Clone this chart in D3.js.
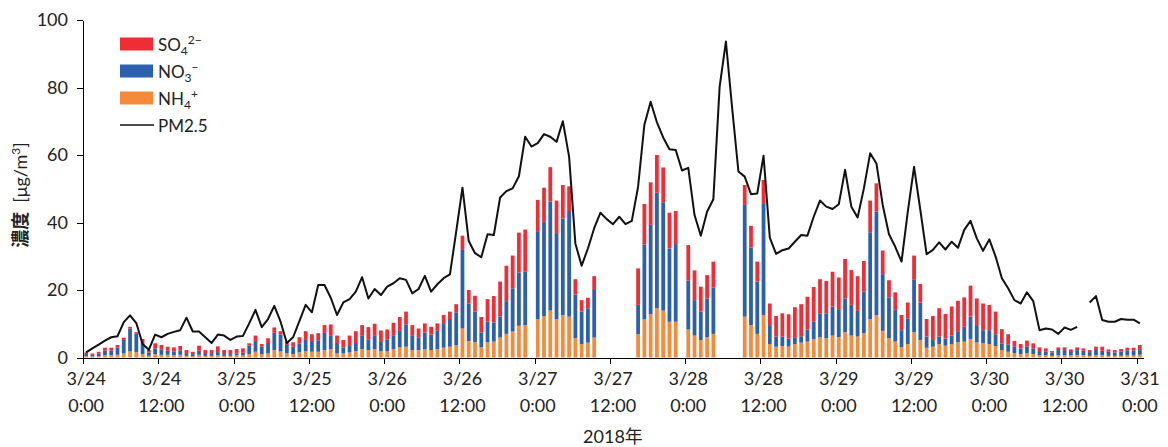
<!DOCTYPE html>
<html>
<head>
<meta charset="utf-8">
<script src="https://cdn.jsdelivr.net/npm/d3@7"></script>
<style>
body { margin: 0; background: #fff; }
text { font-family: Lato, "Noto Sans CJK JP", sans-serif; fill: #222; }
</style>
</head>
<body>
<svg id="chart" width="1168" height="447"></svg>
<script>
// hourly samples, 3/24 0:00 .. 3/31 0:00
const hours = d3.range(169);

const pm25 = [
  1.5, 2.7, 3.8, 5.0, 6.0, 6.3, 10.5, 12.5, 10.2, 4.0,
  2.3, 6.8, 6.0, 7.0, 7.6, 8.1, 11.8, 7.7, 7.7, 6.0,
  4.3, 6.8, 6.5, 5.2, 6.2, 6.4, 10.1, 14.1, 9.0, 11.4,
  15.3, 10.6, 4.3, 6.0, 10.8, 15.6, 13.4, 21.5, 21.5, 17.7,
  12.6, 16.3, 17.3, 19.5, 23.8, 17.5, 20.3, 18.5, 21.0, 22.0,
  23.5, 23.0, 19.0, 20.3, 24.2, 19.5, 21.7, 23.5, 24.6, 37.3,
  50.3, 34.5, 30.9, 29.7, 36.5, 36.3, 47.4, 49.3, 50.1, 53.7,
  65.4, 62.5, 63.5, 66.2, 65.4, 63.9, 70.0, 59.5, 33.8, 27.2,
  32.3, 38.3, 42.9, 41.0, 39.5, 41.7, 39.5, 40.5, 50.6, 68.9,
  75.8, 69.7, 65.2, 61.7, 61.5, 55.4, 56.2, 42.2, 36.1, 43.2,
  46.9, 80.2, 93.6, 73.8, 55.1, 53.6, 48.4, 48.6, 59.8, 35.5,
  30.7, 31.8, 32.3, 34.3, 36.3, 36.1, 41.7, 46.5, 44.7, 44.0,
  45.4, 55.6, 44.7, 41.5, 50.1, 60.5, 57.5, 45.2, 36.5, 32.8,
  28.4, 43.2, 56.5, 43.7, 30.6, 31.9, 34.1, 32.0, 34.3, 32.5,
  37.8, 40.5, 35.3, 31.6, 35.0, 29.9, 23.5, 20.5, 17.0, 16.0,
  19.3, 16.7, 8.1, 8.6, 8.3, 7.0, 8.9, 8.2, 9.1, null,
  16.3, 18.2, 11.1, 10.6, 10.6, 11.4, 11.2, 11.2, 10.1
];

const nh4 = [
  0.4, 0.3, 0.4, 0.7, 0.7, 0.8, 1.2, 1.8, 1.6, 1.0,
  0.5, 1.0, 0.8, 0.8, 0.7, 0.8, 0.5, 0.4, 0.8, 0.5,
  0.5, 0.7, 0.5, 0.5, 0.6, 0.6, 1.0, 1.7, 1.0, 1.2,
  2.2, 1.8, 1.2, 1.0, 1.5, 1.9, 1.7, 1.7, 2.2, 2.4,
  1.2, 1.2, 1.5, 1.9, 2.5, 2.2, 2.5, 1.9, 1.9, 2.5,
  3.0, 3.2, 2.2, 2.2, 2.5, 2.2, 2.5, 2.9, 3.2, 3.7,
  8.6, 4.9, 4.5, 3.0, 4.5, 4.7, 5.9, 7.0, 7.7, 9.4,
  9.6, null, 11.4, 12.3, 13.9, 11.4, 12.6, 12.1, 5.7, 4.0,
  4.4, 5.9, null, null, null, null, null, null, 6.9, 11.4,
  12.9, 14.6, 13.9, 10.6, 10.6, null, 8.3, 6.5, 5.2, 6.0,
  7.0, null, null, null, null, 12.1, 9.6, 7.0, 12.6, 4.0,
  3.2, 3.4, 3.2, 4.0, 4.4, 4.7, 5.5, 6.0, 5.7, 6.5,
  6.0, 7.5, 6.5, 6.2, 7.2, 11.4, 12.6, 7.9, 5.7, 4.7,
  3.0, 4.0, 7.5, 5.2, 2.9, 3.2, 4.0, 3.5, 4.0, 4.5,
  4.7, 5.5, 4.5, 4.2, 4.0, 3.4, 2.2, 1.7, 1.2, 1.0,
  1.3, 1.0, 0.7, 0.7, 0.5, 0.7, 0.7, 0.7, 0.7, 0.7,
  0.5, 0.7, 0.7, 0.5, 0.5, 0.5, 0.6, 0.6, 0.8
];

const no3 = [
  0.6, 0.5, 0.7, 1.3, 1.4, 2.2, 4.0, 6.8, 5.4, 3.0,
  1.0, 1.7, 1.5, 1.2, 1.1, 1.3, 0.8, 0.6, 1.2, 0.8,
  0.8, 0.9, 0.5, 0.5, 0.6, 0.8, 2.5, 2.9, 2.2, 3.1,
  5.1, 5.0, 2.5, 2.2, 2.7, 3.3, 3.2, 3.4, 5.1, 4.2,
  3.1, 1.7, 1.9, 2.4, 3.9, 3.2, 3.9, 2.7, 3.5, 4.1,
  4.9, 6.6, 4.4, 3.8, 4.9, 4.6, 5.4, 7.0, 8.2, 9.7,
  23.5, 11.1, 9.1, 4.4, 6.1, 5.7, 6.2, 9.7, 12.8, 15.8,
  15.8, null, 25.8, 27.9, 32.3, 25.2, 28.6, 31.3, 13.0, 9.6,
  10.2, 14.1, null, null, null, null, null, null, 8.7, 22.1,
  26.4, 34.2, 32.1, 21.7, 23.0, null, 14.5, 10.5, 8.4, 11.5,
  13.7, null, null, null, null, 33.1, 23.0, 15.5, 32.9, 5.6,
  3.0, 2.8, 2.4, 1.8, 1.9, 3.6, 5.1, 7.1, 7.4, 8.6,
  8.1, 10.0, 9.1, 7.6, 12.3, 25.7, 30.6, 16.8, 12.1, 9.4,
  5.1, 7.6, 15.5, 11.1, 3.3, 2.0, 2.2, 2.1, 2.5, 3.3,
  4.4, 6.6, 5.1, 3.9, 4.1, 3.5, 2.0, 2.2, 2.0, 1.7,
  1.9, 1.7, 1.2, 1.0, 1.0, 1.5, 1.5, 1.2, 1.5, 1.3,
  1.1, 1.5, 1.3, 1.2, 1.0, 1.3, 1.5, 1.5, 1.4
];

const so4 = [
  0.5, 0.4, 0.6, 0.9, 0.8, 0.7, 0.7, 0.5, 0.5, 1.5,
  0.7, 1.5, 1.4, 1.2, 1.2, 1.3, 0.9, 0.7, 1.5, 0.9,
  0.9, 1.7, 1.2, 1.2, 1.3, 1.3, 0.7, 1.9, 0.8, 1.4,
  1.6, 1.0, 1.0, 1.3, 1.8, 2.6, 2.0, 2.1, 2.3, 3.2,
  2.2, 2.3, 3.1, 3.5, 3.2, 3.6, 3.6, 3.4, 2.9, 3.7,
  4.1, 3.8, 3.0, 2.6, 2.7, 2.3, 2.2, 2.7, 2.2, 2.4,
  4.0, 4.0, 4.7, 4.6, 6.7, 7.8, 10.4, 10.5, 9.7, 11.8,
  12.5, null, 9.5, 10.1, 10.2, 9.9, 9.9, 7.3, 4.5, 3.4,
  3.1, 4.1, null, null, null, null, null, null, 10.8, 12.0,
  12.6, 11.2, 10.3, 10.6, 9.8, null, 10.5, 8.8, 7.4, 6.9,
  7.7, null, null, null, null, 5.9, 6.4, 5.9, 7.1, 6.4,
  6.1, 6.9, 7.2, 9.1, 9.5, 9.7, 10.3, 10.1, 9.6, 10.3,
  9.6, 11.7, 10.3, 10.3, 9.1, 9.4, 8.4, 7.0, 5.1, 5.2,
  4.5, 4.7, 7.2, 5.5, 5.2, 7.1, 8.4, 7.3, 8.6, 9.0,
  8.7, 9.2, 7.9, 7.9, 7.5, 6.7, 4.2, 3.0, 1.7, 1.3,
  1.8, 1.5, 1.1, 1.0, 0.4, 0.8, 0.8, 0.5, 0.8, 0.7,
  0.6, 1.0, 1.2, 0.7, 0.7, 0.7, 0.8, 0.8, 1.5
];

const tickDays = ['3/24', '3/24', '3/25', '3/25', '3/26', '3/26', '3/27', '3/27',
                  '3/28', '3/28', '3/29', '3/29', '3/30', '3/30', '3/31'];
const tickTimes = ['0:00', '12:00', '0:00', '12:00', '0:00', '12:00', '0:00', '12:00',
                   '0:00', '12:00', '0:00', '12:00', '0:00', '12:00', '0:00'];
const yTicks = [0, 20, 40, 60, 80, 100];

const svg = d3.select('#chart');
const mLeft = 83, mRight = 1143, mTop = 20, mBottom = 357.5;

const x = d3.scaleBand().domain(hours).range([mLeft, mRight])
  .paddingInner(0.4).paddingOuter(0.2);
const xEdge = d3.scaleLinear().domain([0, hours.length]).range([mLeft, mRight]);
const y = d3.scaleLinear().domain([0, 100]).range([mBottom, mTop]);
const cx = i => x(i) + x.bandwidth() / 2;

const colors = { nh4: '#f58b3a', no3: '#2c5fad', so4: '#ee2d36' };
const rows = hours.map(i => ({ i, nh4: nh4[i], no3: no3[i], so4: so4[i] }));
const stack = d3.stack().keys(['nh4', 'no3', 'so4'])
  .value((d, k) => d[k] == null ? 0 : d[k]);

// stacked bars
svg.append('g')
  .selectAll('g')
  .data(stack(rows))
  .join('g')
  .attr('fill', s => colors[s.key])
  .selectAll('rect')
  .data(s => s.filter(d => d.data.nh4 != null))
  .join('rect')
  .attr('x', d => x(d.data.i))
  .attr('width', x.bandwidth())
  .attr('y', d => y(d[1]))
  .attr('height', d => y(d[0]) - y(d[1]));

// PM2.5 line
const line = d3.line()
  .defined(d => d != null)
  .x((d, i) => cx(i))
  .y(d => y(d));
svg.append('path')
  .datum(pm25)
  .attr('fill', 'none')
  .attr('stroke', '#111')
  .attr('stroke-width', 2)
  .attr('stroke-linejoin', 'round')
  .attr('d', line);

// axes
const yAxis = svg.append('g')
  .attr('transform', `translate(${mLeft},0)`)
  .call(d3.axisLeft(y).tickValues(yTicks).tickSize(6).tickSizeOuter(0).tickPadding(9));
yAxis.selectAll('text').style('font-size', '18px');

svg.append('g')
  .attr('transform', `translate(0,${mBottom})`)
  .call(d3.axisBottom(xEdge).tickValues(d3.range(0, 169, 12))
    .tickSize(6).tickSizeOuter(0).tickFormat(''));
svg.selectAll('.domain, .tick line').attr('stroke', '#000').attr('shape-rendering', 'crispEdges');

const labels = svg.append('g').selectAll('text')
  .data(tickDays)
  .join('text')
  .attr('text-anchor', 'middle')
  .style('font-size', '18px');
labels.append('tspan')
  .attr('x', (d, k) => cx(k * 12))
  .attr('y', 385)
  .text(d => d);
labels.append('tspan')
  .attr('x', (d, k) => cx(k * 12))
  .attr('y', 412)
  .text((d, k) => tickTimes[k]);

svg.append('text')
  .attr('x', (mLeft + mRight) / 2)
  .attr('y', 443)
  .attr('text-anchor', 'middle')
  .style('font-size', '18px')
  .text('2018年');

// y label
const yl = svg.append('text')
  .attr('transform', 'translate(27,195) rotate(-90)')
  .attr('text-anchor', 'middle')
  .style('font-size', '18px');
yl.append('tspan').style('font-weight', 'bold').style('font-family', '"Noto Sans CJK JP"').text('濃度');
yl.append('tspan').text('\u2002[μg/m');
yl.append('tspan').attr('dy', -7).style('font-size', '12px').text('3');
yl.append('tspan').attr('dy', 7).text(']');

// legend
const legend = [
  { key: 'so4', name: 'SO', sub: '4', sup: '2\u2212' },
  { key: 'no3', name: 'NO', sub: '3', sup: '\u2212' },
  { key: 'nh4', name: 'NH', sub: '4', sup: '+' },
  { key: 'pm', name: 'PM2.5' }
];
const lg = svg.append('g').selectAll('g')
  .data(legend)
  .join('g')
  .attr('transform', (d, k) => `translate(120,${44 + k * 27})`);
lg.filter(d => d.key !== 'pm').append('rect')
  .attr('x', 0).attr('y', -6.5).attr('width', 33).attr('height', 13)
  .attr('fill', d => colors[d.key]);
lg.filter(d => d.key === 'pm').append('line')
  .attr('x1', 0).attr('x2', 34).attr('stroke', '#111').attr('stroke-width', 1.5);
const lt = lg.append('text')
  .attr('x', 38).attr('y', 6.5)
  .style('font-size', '17px');
lt.append('tspan').text(d => d.name);
lt.filter(d => d.sub).append('tspan').attr('dy', 4).style('font-size', '12px').text(d => d.sub);
lt.filter(d => d.sub).append('tspan').attr('dy', -11).style('font-size', '12px').text(d => d.sup);
</script>
</body>
</html>
